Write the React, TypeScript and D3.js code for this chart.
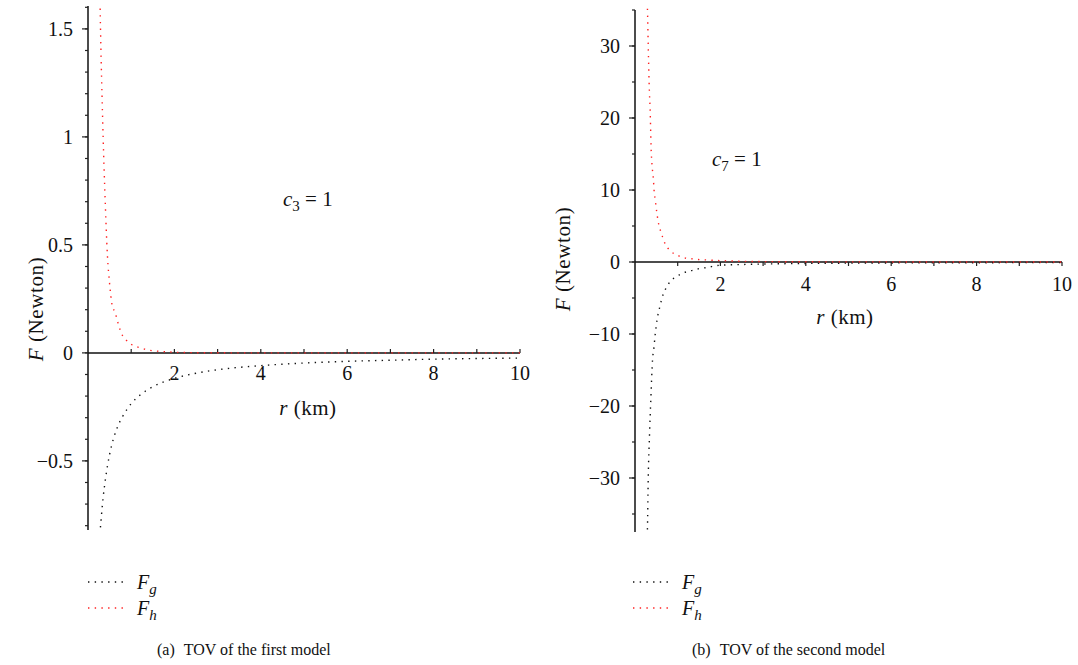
import { useRef, useEffect } from 'react';
import * as d3 from 'd3';

const FONT = '"Liberation Serif", "DejaVu Serif", serif';

// (a) first model, c3 = 1
const rG1 = [0.27, 0.28, 0.3, 0.35, 0.4, 0.5, 0.6, 0.7, 0.8, 1.0, 1.2, 1.5, 2, 2.5, 3, 4, 5, 6, 7, 8, 9, 10];
const fG1 = [-0.87, -0.83, -0.78, -0.67, -0.59, -0.47, -0.39, -0.335, -0.295, -0.235, -0.196, -0.157, -0.118, -0.094, -0.078, -0.059, -0.047, -0.039, -0.034, -0.029, -0.026, -0.024];
const rH1 = [0.27, 0.28, 0.3, 0.33, 0.35, 0.39, 0.45, 0.5, 0.56, 0.62, 0.66, 0.7, 0.8, 0.9, 1.0, 1.2, 1.4, 1.6, 1.8, 2, 2.5, 3, 4, 6, 8, 10];
const fH1 = [1.75, 1.61, 1.4, 1.15, 1.0, 0.75, 0.45, 0.32, 0.22, 0.19, 0.165, 0.134, 0.08, 0.056, 0.04, 0.024, 0.013, 0.008, 0.005, 0.003, 0.001, 0.0005, 0, 0, 0, 0];
const yTicks1 = [-0.5, 0, 0.5, 1, 1.5];
const yLabels1 = ['\u22120.5', '0', '0.5', '1', '1.5'];

// (b) second model, c7 = 1
const rG2 = [0.28, 0.29, 0.31, 0.34, 0.37, 0.41, 0.445, 0.475, 0.515, 0.58, 0.66, 0.72, 0.8, 0.92, 1.05, 1.19, 1.35, 1.5, 1.67, 1.82, 1.97, 2.5, 3, 4, 5, 6, 8, 10];
const fG2 = [-39, -37.5, -30, -24, -19.2, -13.65, -11.8, -9.95, -8.1, -6.25, -4.5, -3.7, -2.9, -2.2, -1.75, -1.39, -1.15, -0.92, -0.78, -0.6, -0.46, -0.35, -0.28, -0.2, -0.16, -0.13, -0.1, -0.08];
const rH2 = [0.28, 0.29, 0.31, 0.33, 0.36, 0.375, 0.4, 0.43, 0.45, 0.47, 0.51, 0.56, 0.6, 0.65, 0.71, 0.8, 0.91, 1.05, 1.21, 1.37, 1.52, 1.68, 1.83, 2.0, 2.5, 3, 4, 6, 8, 10];
const fH2 = [37, 35.5, 30, 25, 20, 16.2, 13.4, 11.6, 9.7, 8.8, 6.9, 5.1, 4.3, 3.4, 2.46, 1.72, 1.16, 0.79, 0.51, 0.42, 0.33, 0.29, 0.23, 0.19, 0.1, 0.06, 0.03, 0.01, 0.005, 0.003];
const yTicks2 = [-30, -20, -10, 0, 10, 20, 30];
const yLabels2 = ['\u221230', '\u221220', '\u221210', '0', '10', '20', '30'];

const xTicks = [2, 4, 6, 8, 10];
const xMinor = [1, 2, 3, 4, 5, 6, 7, 8, 9, 10];

const panels = [
    {
        id: 'a', x0: 88, x1: 520, yTop: 6, yBot: 530, yDomain: [-0.82, 1.606], yMinorStep: 0.1,
        rG: rG1, fG: fG1, rH: rH1, fH: fH1, yTicks: yTicks1, yLabels: yLabels1,
        xTickUp: true, xLabelDy: 27, rLabel: [308, 415], fLabelX: 43, fLabelY: 309,
        cName: '3', cPos: [283, 206], legendX: 88, caption: ['(a)', 'TOV of the first model'], captionX: 157
    },
    {
        id: 'b', x0: 635, x1: 1062, yTop: 10, yBot: 532, yDomain: [-37.5, 35], yMinorStep: 5,
        rG: rG2, fG: fG2, rH: rH2, fH: fH2, yTicks: yTicks2, yLabels: yLabels2,
        xTickUp: false, xLabelDy: 29, rLabel: [845, 324], fLabelX: 570, fLabelY: 259,
        cName: '7', cPos: [712, 166], legendX: 633, caption: ['(b)', 'TOV of the second model'], captionX: 692
    }
];

const App = () => {
    const svgRef = useRef(null);

    useEffect(() => {
        const svg = d3.select(svgRef.current);
        svg.selectAll('*').remove();

        panels.forEach((p) => {
            const g = svg.append('g');
            const x = d3.scaleLinear().domain([0, 10]).range([p.x0, p.x1]);
            const y = d3.scaleLinear().domain(p.yDomain).range([p.yBot, p.yTop]);
            const y0 = y(0);

            g.append('clipPath').attr('id', 'clip-' + p.id)
                .append('rect')
                .attr('x', p.x0).attr('y', p.yTop - 2)
                .attr('width', p.x1 - p.x0 + 2).attr('height', p.yBot - p.yTop + 3);

            // y axis
            g.append('line')
                .attr('x1', p.x0).attr('x2', p.x0).attr('y1', p.yTop).attr('y2', p.yBot)
                .attr('stroke', '#111').attr('stroke-width', 1.5);
            const minor = d3.range(Math.ceil(p.yDomain[0] / p.yMinorStep), Math.floor(p.yDomain[1] / p.yMinorStep) + 1)
                .map((k) => k * p.yMinorStep);
            g.selectAll('.ymin').data(minor).enter().append('line')
                .attr('x1', p.x0 - 3).attr('x2', p.x0)
                .attr('y1', (d) => y(d)).attr('y2', (d) => y(d))
                .attr('stroke', '#222').attr('stroke-width', 1.2);
            g.selectAll('.ymaj').data(p.yTicks).enter().append('line')
                .attr('x1', p.x0 - 6).attr('x2', p.x0)
                .attr('y1', (d) => y(d)).attr('y2', (d) => y(d))
                .attr('stroke', '#222').attr('stroke-width', 1.2);
            g.selectAll('.ylab').data(p.yTicks).enter().append('text')
                .attr('x', p.x0 - 15).attr('y', (d) => y(d)).attr('dy', '0.35em')
                .attr('text-anchor', 'end')
                .style('font-family', FONT).style('font-size', '20px').attr('fill', '#111')
                .text((d, i) => p.yLabels[i]);

            // x axis
            g.append('line')
                .attr('x1', p.x0).attr('x2', p.x1).attr('y1', y0).attr('y2', y0)
                .attr('stroke', '#111').attr('stroke-width', 1.5);
            g.selectAll('.xmin').data(xMinor).enter().append('line')
                .attr('x1', (d) => x(d)).attr('x2', (d) => x(d))
                .attr('y1', y0).attr('y2', p.xTickUp ? y0 - 4 : y0 + 4)
                .attr('stroke', '#222').attr('stroke-width', 1.2);
            g.selectAll('.xlab').data(xTicks).enter().append('text')
                .attr('x', (d) => x(d)).attr('y', y0 + p.xLabelDy)
                .attr('text-anchor', 'middle')
                .style('font-family', FONT).style('font-size', '20px').attr('fill', '#111')
                .text((d) => d);

            // curves
            const line = d3.line()
                .x((d) => x(d[0]))
                .y((d) => y(d[1]))
                .curve(d3.curveMonotoneX);
            const series = [
                { r: p.rG, f: p.fG, color: '#111' },
                { r: p.rH, f: p.fH, color: '#ff2020' }
            ];
            series.forEach((s) => {
                g.append('path')
                    .attr('d', line(s.r.map((r, i) => [r, s.f[i]])))
                    .attr('fill', 'none')
                    .attr('stroke', s.color)
                    .attr('stroke-width', 1.4)
                    .attr('stroke-dasharray', '1.4 5.3')
                    .attr('clip-path', 'url(#clip-' + p.id + ')');
            });

            // axis titles
            const rt = g.append('text')
                .attr('x', p.rLabel[0]).attr('y', p.rLabel[1]).attr('text-anchor', 'middle')
                .style('font-family', FONT).style('font-size', '21px').style('letter-spacing', '0.5px')
                .attr('fill', '#111');
            rt.append('tspan').style('font-style', 'italic').text('r');
            rt.append('tspan').text(' (km)');

            const ft = g.append('text')
                .attr('transform', 'translate(' + p.fLabelX + ',' + p.fLabelY + ') rotate(-90)')
                .attr('text-anchor', 'middle')
                .style('font-family', FONT).style('font-size', '21px').style('letter-spacing', '0.6px')
                .attr('fill', '#111');
            ft.append('tspan').style('font-style', 'italic').text('F');
            ft.append('tspan').text(' (Newton)');

            // constant annotation
            const ct = g.append('text')
                .attr('x', p.cPos[0]).attr('y', p.cPos[1])
                .style('font-family', FONT).style('font-size', '21px').attr('fill', '#111');
            ct.append('tspan').style('font-style', 'italic').text('c');
            ct.append('tspan').attr('dy', 5).style('font-size', '15px').text(p.cName);
            ct.append('tspan').attr('dy', -5).text(' = 1');

            // legend
            const leg = [
                { color: '#111', sub: 'g', y: 582 },
                { color: '#ff2020', sub: 'h', y: 608 }
            ];
            leg.forEach((l) => {
                g.append('line')
                    .attr('x1', p.legendX).attr('x2', p.legendX + 36)
                    .attr('y1', l.y).attr('y2', l.y)
                    .attr('stroke', l.color).attr('stroke-width', 1.4)
                    .attr('stroke-dasharray', '1.4 5.3');
                const lt = g.append('text')
                    .attr('x', p.legendX + 49).attr('y', l.y + 7)
                    .style('font-family', FONT).style('font-size', '20px').attr('fill', '#111');
                lt.append('tspan').style('font-style', 'italic').text('F');
                lt.append('tspan').attr('dy', 5).style('font-style', 'italic').style('font-size', '15px').text(l.sub);
            });

            // caption
            const cap = g.append('text')
                .attr('x', p.captionX).attr('y', 655)
                .style('font-family', FONT).style('font-size', '16px').attr('fill', '#111');
            cap.append('tspan').text(p.caption[0]);
            cap.append('tspan').attr('dx', 9).text(p.caption[1]);
        });
    }, []);

    return (
        <svg ref={svgRef} width={1078} height={665}
            style={{ position: 'absolute', left: 0, top: 0, background: '#fff' }} />
    );
};

export default App;
